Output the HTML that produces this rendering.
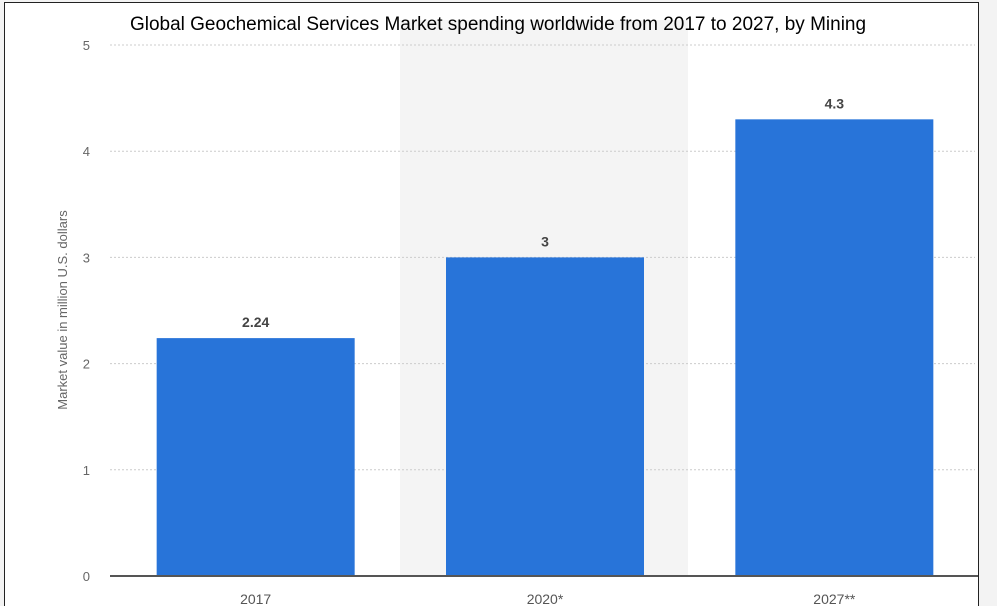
<!DOCTYPE html>
<html><head><meta charset="utf-8"><style>
html,body{margin:0;padding:0;background:#f3f3f3;}
svg{display:block;font-family:"Liberation Sans",sans-serif;}
</style></head><body>
<svg id="c" width="997" height="606">
<rect x="0" y="0" width="997" height="606" fill="#f3f3f3"/>
<rect x="4.5" y="2.5" width="974" height="610" fill="#fff" stroke="#222"/>
<rect x="400" y="20" width="288" height="556" fill="#f4f4f4"/>
<text x="498" y="30" text-anchor="middle" font-size="19" fill="#000">Global Geochemical Services Market spending worldwide from 2017 to 2027, by Mining</text>
<text transform="translate(67,310) rotate(-90)" text-anchor="middle" font-size="13" fill="#666">Market value in million U.S. dollars</text>
<g id="grid"></g><g id="bars"></g>
<line x1="110" y1="576" x2="978" y2="576" stroke="#555" stroke-width="2"/>
</svg>
<script>
const categories=["2017","2020*","2027**"];
const values=[2.24,3,4.3];
const valueLabels=["2.24","3","4.3"];
const yTicks=[0,1,2,3,4,5];
const NS="http://www.w3.org/2000/svg";
const y0=576,yTop=45,yMax=5;
function yScale(v){return y0-(v/yMax)*(y0-yTop);}
const plotL=110,plotR=978,band=(plotR-plotL)/categories.length;
function xCenter(i){return plotL+band*(i+0.5)+1;}
const bw=198;
const g=document.getElementById('grid'),b=document.getElementById('bars');
yTicks.forEach(t=>{
 const y=yScale(t);
 if(t>0){const l=document.createElementNS(NS,'line');
 l.setAttribute('x1',110);l.setAttribute('x2',975);l.setAttribute('y1',y);l.setAttribute('y2',y);
 l.setAttribute('stroke','#ccc');l.setAttribute('stroke-dasharray','2,2');
 
 
 g.appendChild(l);}
 const tx=document.createElementNS(NS,'text');
 tx.setAttribute('x',90);tx.setAttribute('y',y+5);tx.setAttribute('text-anchor','end');
 tx.setAttribute('font-size','13');tx.setAttribute('fill','#666');tx.textContent=t;
 
 
 g.appendChild(tx);
});
categories.forEach((c,i)=>{
 const cx=xCenter(i),y=yScale(values[i]);
 const r=document.createElementNS(NS,'rect');
 r.setAttribute('x',cx-bw/2);r.setAttribute('y',y);r.setAttribute('width',bw);r.setAttribute('height',y0-y);
 r.setAttribute('fill','#2874d9');
 
 
 b.appendChild(r);
 const v=document.createElementNS(NS,'text');
 v.setAttribute('x',cx);v.setAttribute('y',y-11);v.setAttribute('text-anchor','middle');
 v.setAttribute('font-size','14');v.setAttribute('font-weight','bold');v.setAttribute('fill','#444');
 v.textContent=valueLabels[i];
 
 
 b.appendChild(v);
 const x=document.createElementNS(NS,'text');
 x.setAttribute('x',cx);x.setAttribute('y',604);x.setAttribute('text-anchor','middle');
 x.setAttribute('font-size','14');x.setAttribute('fill','#555');x.textContent=c;
 
 
 b.appendChild(x);
});
</script>
</body></html>
